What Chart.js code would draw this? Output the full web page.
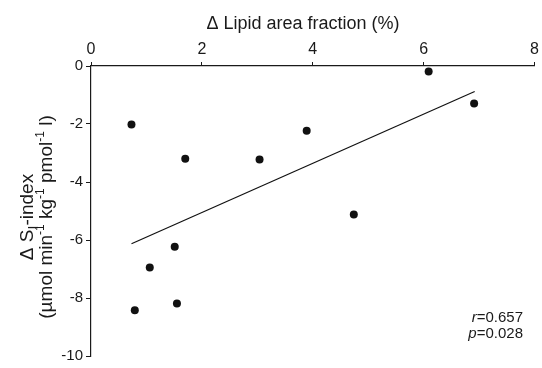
<!DOCTYPE html>
<html>
<head>
<meta charset="utf-8">
<script src="https://cdn.jsdelivr.net/npm/chart.js@4.4.1/dist/chart.umd.min.js"></script>
<style>
  html, body { margin: 0; padding: 0; background: #fff; }
  #wrap { width: 542px; height: 368px; }
</style>
</head>
<body>
<div id="wrap"><canvas id="chart"></canvas></div>
<script>
// values
const lipidX = [6.09, 6.91, 0.73, 3.89, 1.70, 3.04, 4.74, 1.51, 1.06, 0.79, 1.55];
const siY = [-0.19, -1.29, -2.02, -2.23, -3.20, -3.22, -5.12, -6.23, -6.95, -8.42, -8.19];
const fitX = [0.73, 6.92];
const fitY = [-6.13, -0.88];
const xTicks = [0, 2, 4, 6, 8];
const yTicks = [0, -2, -4, -6, -8, -10];
const statsR = '0.657';
const statsP = '0.028';

const FONT = '"Liberation Sans", Arial, Helvetica, sans-serif';
const INK = '#1a1a1a';

// draws a run of [text, size, shift] pieces, centred on 0
function drawPieces(ctx, pieces, y) {
    let total = 0;
    pieces.forEach(p => {
        ctx.font = p[1] + 'px ' + FONT;
        p.w = ctx.measureText(p[0]).width;
        total += p.w;
    });
    let x = -total / 2;
    pieces.forEach(p => {
        ctx.font = p[1] + 'px ' + FONT;
        ctx.fillText(p[0], x, y + p[2]);
        x += p.w;
    });
}

const textPlugin = {
    id: 'texts',
    afterDraw(chart) {
        const ctx = chart.ctx;
        ctx.save();
        ctx.fillStyle = INK;
        ctx.textBaseline = 'alphabetic';

        // x title
        ctx.font = '18px ' + FONT;
        ctx.textAlign = 'center';
        ctx.fillText('\u0394 Lipid area fraction (%)', 303, 29);

        // y title, two lines
        ctx.textAlign = 'left';
        ctx.save();
        ctx.translate(33, 217);
        ctx.rotate(-Math.PI / 2);
        drawPieces(ctx, [
            ['\u0394 S', 19, 0],
            ['I', 14, 5],
            ['-index', 19, 0]
        ], 0);
        drawPieces(ctx, [
            ['(\u00b5mol min', 19, 0],
            ['-1', 12, -8],
            [' kg', 19, 0],
            ['-1', 12, -8],
            [' pmol', 19, 0],
            ['-1', 12, -8],
            [' l)', 19, 0]
        ], 19);
        ctx.restore();

        // stats
        ctx.textAlign = 'right';
        ctx.font = '15px ' + FONT;
        const wr = ctx.measureText('=' + statsR).width;
        const wp = ctx.measureText('=' + statsP).width;
        ctx.fillText('=' + statsR, 523, 322);
        ctx.fillText('=' + statsP, 523, 338);
        ctx.font = 'italic 15px ' + FONT;
        ctx.fillText('r', 523 - wr, 322);
        ctx.fillText('p', 523 - wp, 338);
        ctx.restore();
    }
};

const ctx = document.getElementById('chart').getContext('2d');
new Chart(ctx, {
    type: 'scatter',
    data: {
        datasets: [{
            label: 'data',
            data: lipidX.map((x, i) => ({ x: x, y: siY[i] })),
            backgroundColor: '#111',
            borderColor: '#111',
            pointRadius: 4,
            pointBorderWidth: 0
        }, {
            label: 'fit',
            type: 'line',
            data: fitX.map((x, i) => ({ x: x, y: fitY[i] })),
            borderColor: '#111',
            borderWidth: 1.2,
            pointRadius: 0,
            fill: false
        }]
    },
    options: {
        responsive: true,
        maintainAspectRatio: false,
        animation: false,
        layout: { padding: { left: 0, right: 4, top: 0, bottom: 6 } },
        plugins: {
            legend: { display: false },
            tooltip: { enabled: false }
        },
        scales: {
            x: {
                type: 'linear',
                position: 'top',
                min: 0,
                max: 8,
                afterBuildTicks: s => { s.ticks = xTicks.map(v => ({ value: v })); },
                afterFit: s => { s.height = 66; },
                grid: { drawOnChartArea: false, color: INK, tickLength: 4, lineWidth: 1 },
                border: { color: INK, width: 1.2 },
                ticks: { color: INK, font: { family: FONT, size: 16 }, padding: 3, maxRotation: 0 }
            },
            y: {
                type: 'linear',
                min: -10,
                max: 0,
                afterBuildTicks: s => { s.ticks = yTicks.map(v => ({ value: v })); },
                afterFit: s => { s.width = 91; },
                grid: { drawOnChartArea: false, color: INK, tickLength: 5, lineWidth: 1 },
                border: { color: INK, width: 1.2 },
                ticks: { color: INK, font: { family: FONT, size: 15 }, padding: 3 }
            }
        }
    },
    plugins: [textPlugin]
});
</script>
</body>
</html>
